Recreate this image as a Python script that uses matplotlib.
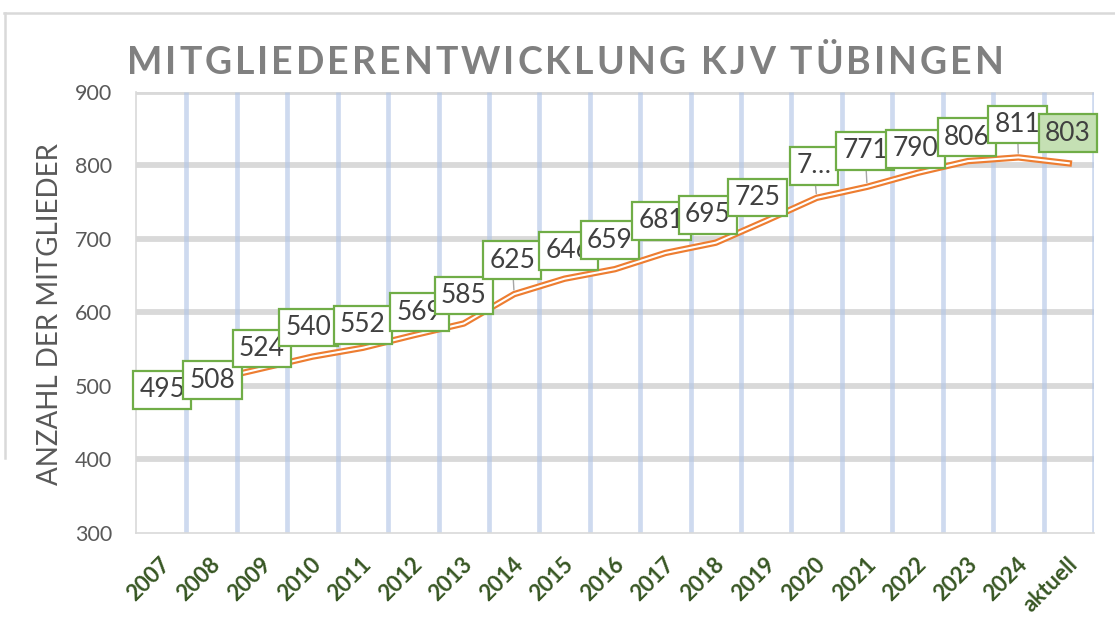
import matplotlib
matplotlib.use("Agg")
import matplotlib.pyplot as plt
from matplotlib.lines import Line2D
import matplotlib.transforms as mtransforms

# ---- data ----
categories = ["2007", "2008", "2009", "2010", "2011", "2012", "2013", "2014", "2015",
              "2016", "2017", "2018", "2019", "2020", "2021", "2022", "2023", "2024", "aktuell"]
members = [495, 508, 524, 540, 552, 569, 585, 625, 646, 659, 681, 695, 725, 756,
           771, 790, 806, 811, 803]
value_labels = ["495", "508", "524", "540", "552", "569", "585", "625", "646", "659",
                "681", "695", "725", "7…", "771", "790", "806", "811", "803"]
y_ticks = [300, 400, 500, 600, 700, 800, 900]
title = "MITGLIEDERENTWICKLUNG KJV TÜBINGEN"
y_title = "ANZAHL DER MITGLIEDER"

# ---- layout / style (label offsets in screen pixels: dx right, dy up) ----
label_dx = [1, 1, 0, -4, 0, 6, 0, -2, 4, -5, -4, -8, -9, -3, -2, -2, -1, -1, -1]
label_dy = [0, 0, 20, 29, 23, 23, 28, 34, 28, 29, 32, 28, 23, 32, 36, 24, 24, 33, 30]
leader = [7, 13, 14, 17]
highlight = [18]

W, H = 1115, 617
fig = plt.figure(figsize=(W / 100, H / 100), dpi=100)
fig.patch.set_facecolor("white")

left, right, bottom, top = 136, 1094, 533, 92
ax = fig.add_axes([left / W, 1 - bottom / H, (right - left) / W, (bottom - top) / H])
ax.set_facecolor("white")

FONT = "Lato"
n = len(categories)
xs = list(range(n))

ax.set_xlim(-0.5, n - 0.5)
ax.set_ylim(300, 900)

# horizontal gridlines
for yv in y_ticks[1:]:
    ax.axhline(yv, color="#d9d9d9", lw=4.2, zorder=1, solid_capstyle="butt")
# vertical category boundary lines
for k in range(n):
    ax.axvline(k + 0.5, color="#b4c7e7", lw=3.4, alpha=0.65, zorder=1.5, solid_capstyle="butt")

# double line: orange with white core
ax.plot(xs, members, color="#ed7d31", lw=4.6, zorder=3, solid_joinstyle="round")
ax.plot(xs, members, color="white", lw=1.5, zorder=3.1, solid_joinstyle="round")

# spines
for s in ["top", "right"]:
    ax.spines[s].set_visible(False)
ax.spines["left"].set_color("#d9d9d9")
ax.spines["bottom"].set_color("#d9d9d9")
ax.spines["left"].set_linewidth(1.2)
ax.spines["bottom"].set_linewidth(1.2)

ax.set_yticks(y_ticks)
ax.set_yticklabels([str(v) for v in y_ticks], fontfamily=FONT, fontsize=15.5, color="#595959")
ax.tick_params(axis="y", length=0, pad=17)

ax.set_xticks(xs)
ax.set_xticklabels(categories, rotation=45, ha="right", va="top", rotation_mode="anchor",
                   fontfamily=FONT, fontsize=16, fontweight="bold", color="#375623")
ax.tick_params(axis="x", length=0, pad=15)
offset = mtransforms.ScaledTranslation(-2 / 100, 0, fig.dpi_scale_trans)
for lab in ax.get_xticklabels():
    lab.set_transform(lab.get_transform() + offset)

# data labels
for i, (v, txt) in enumerate(zip(members, value_labels)):
    fc = "#c5e0b4" if i in highlight else "white"
    kw = {}
    if i in leader:
        kw["arrowprops"] = dict(arrowstyle="-", color="#a6a6a6", lw=1.0,
                                shrinkA=0, shrinkB=3)
    ax.annotate(txt, xy=(i, v), xytext=(label_dx[i], label_dy[i]),
                textcoords="offset pixels", ha="center", va="center",
                fontfamily=FONT, fontsize=19, color="#404040",
                bbox=dict(boxstyle="square,pad=0.24", fc=fc, ec="#70ad47", lw=1.6),
                zorder=5 + i, annotation_clip=False, **kw)

# title with letter spacing (drawn glyph by glyph)
renderer = fig.canvas.get_renderer()
tkw = dict(fontfamily=FONT, fontsize=27, fontweight="bold", color="#808080")
track = 3.0


def text_width(s):
    t = fig.text(0, 0, s, **tkw)
    w = t.get_window_extent(renderer).width
    t.remove()
    return w


total = text_width(title) + track * (len(title) - 1)
x0 = 565 - total / 2
for i, ch in enumerate(title):
    if ch == " ":
        continue
    xr = x0 + text_width(title[:i + 1]) + track * i
    fig.text(xr / W, 1 - 60 / H, ch, ha="right", va="center_baseline", **tkw)

fig.text(50 / W, 1 - 314 / H, y_title, ha="center", va="center",
         rotation=90, fontfamily=FONT, fontsize=20, color="#595959")

# outer frame lines
fig.add_artist(Line2D([4 / W, 1.0], [1 - 13 / H, 1 - 13 / H], color="#d9d9d9", lw=1.8,
                      transform=fig.transFigure))
fig.add_artist(Line2D([5 / W, 5 / W], [1 - 13 / H, 1 - 458 / H], color="#d9d9d9", lw=1.8,
                      transform=fig.transFigure))

fig.savefig("out.png", dpi=100, facecolor="white")
